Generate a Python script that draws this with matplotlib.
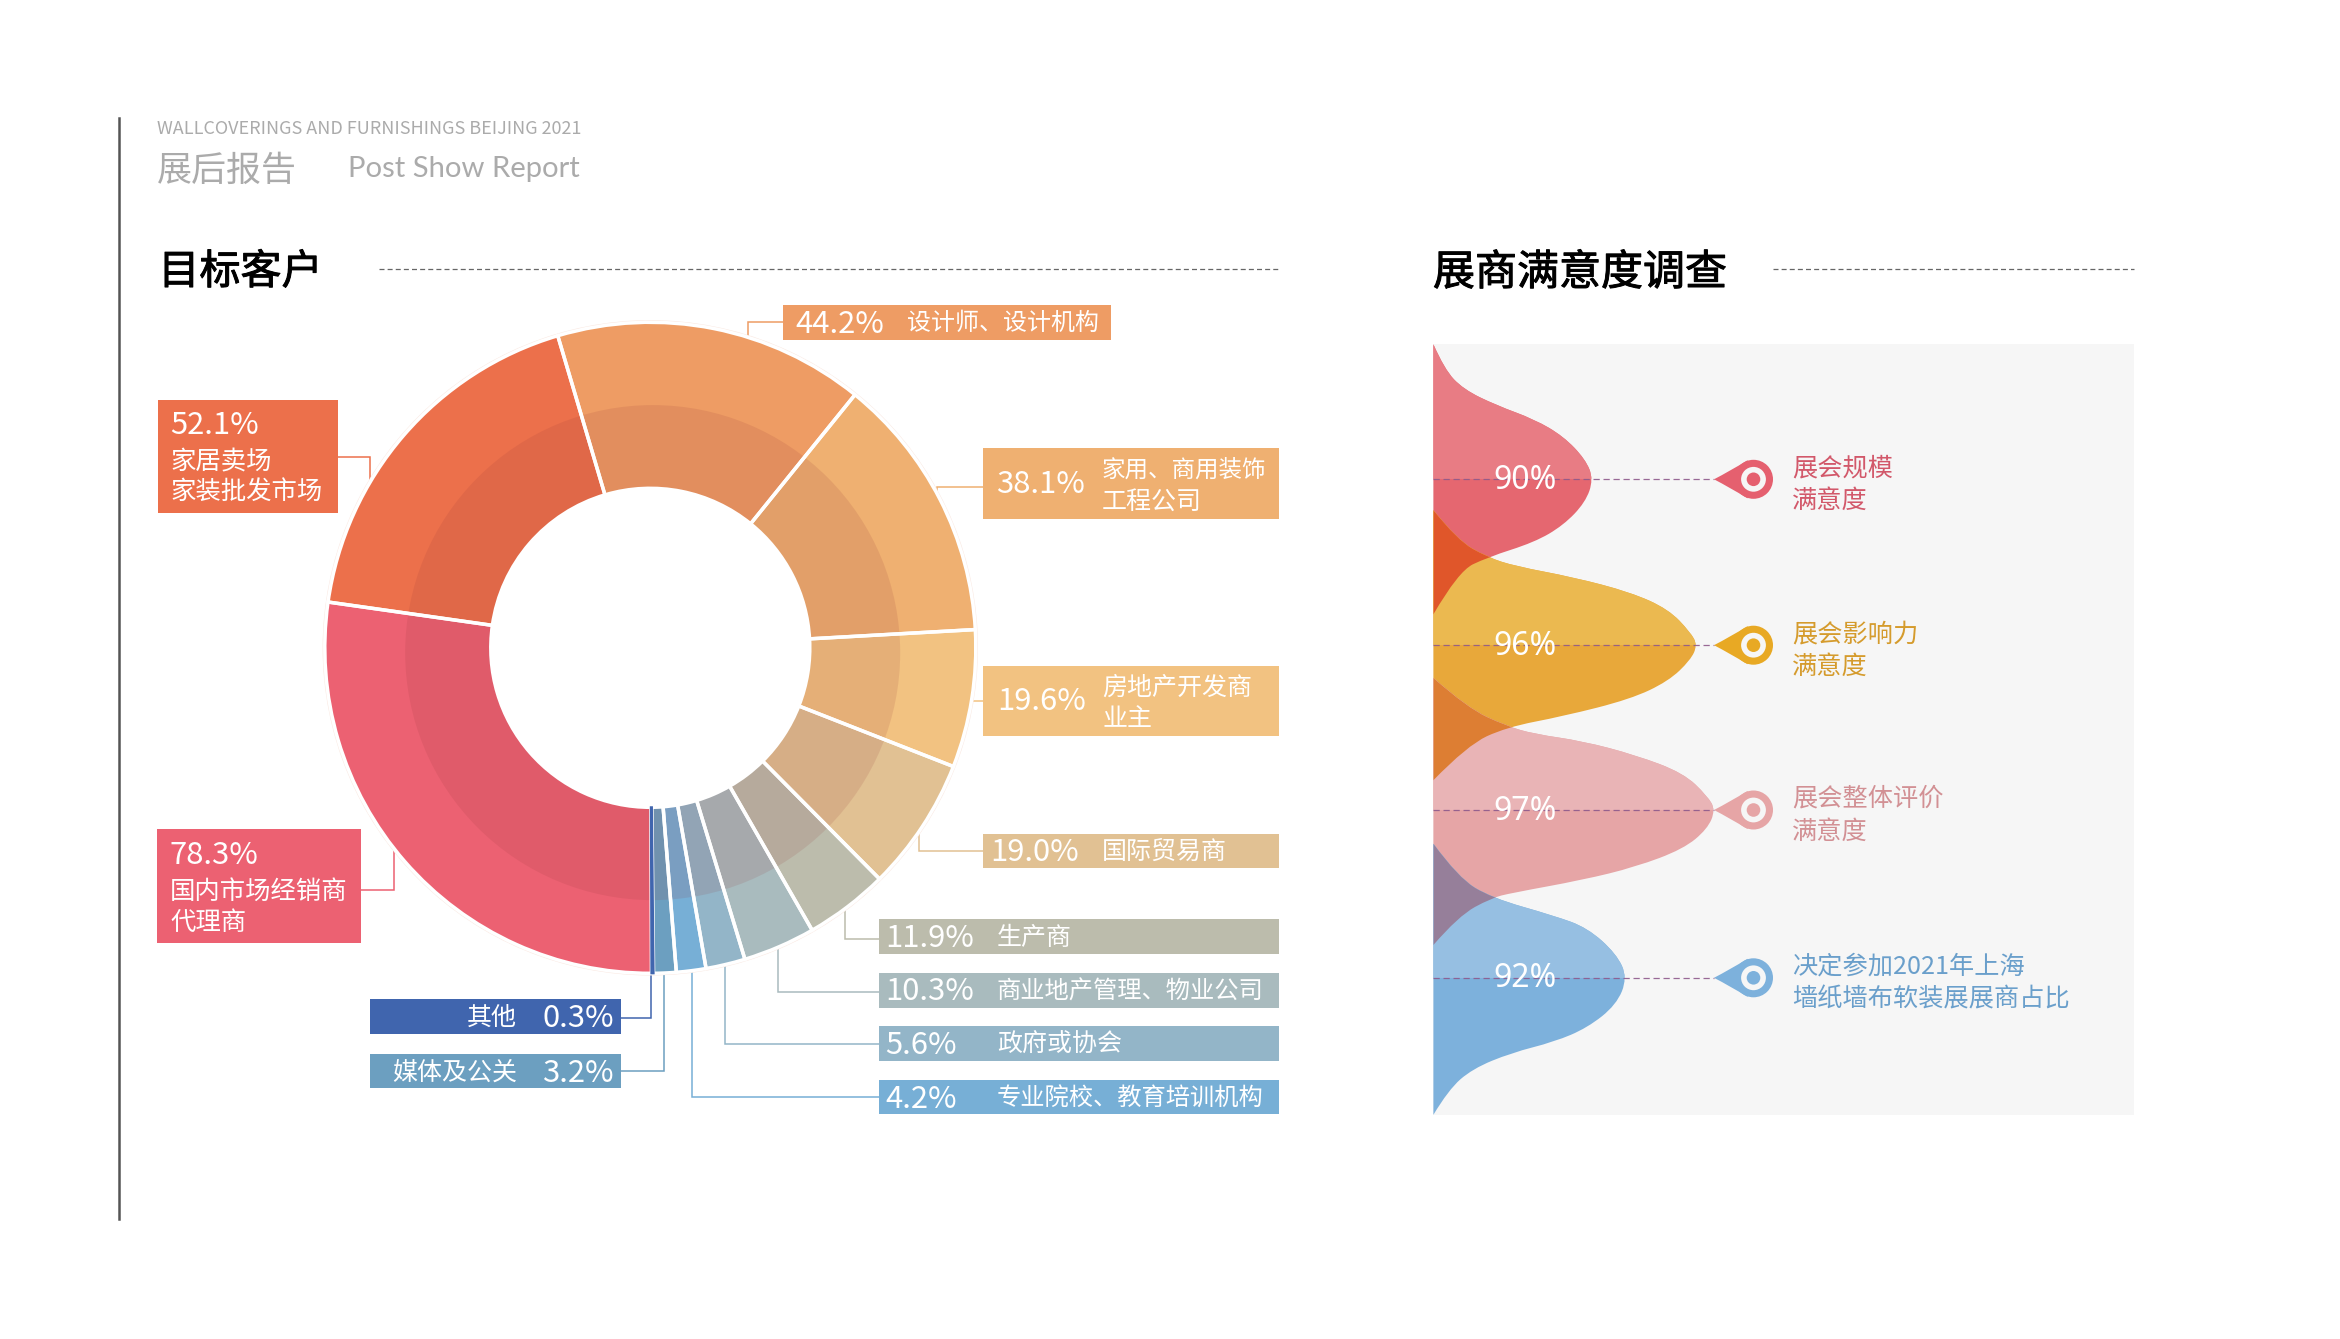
import matplotlib
matplotlib.use('Agg')
from matplotlib import pyplot as plt
from matplotlib import patheffects as pe
from matplotlib.patches import Circle, PathPatch, Rectangle
from matplotlib.path import Path

W, H = 2340, 1339
CJK = ['Noto Sans CJK SC', 'DejaVu Sans']
plt.rcParams['font.family'] = CJK

# donut data, clockwise from the bottom
shares = [78.3, 52.1, 44.2, 38.1, 19.6, 19.0, 11.9, 10.3, 5.6, 4.2, 3.2, 0.3]
names = [
    ['国内市场经销商', '代理商'],
    ['家居卖场', '家装批发市场'],
    ['设计师、设计机构'],
    ['家用、商用装饰', '工程公司'],
    ['房地产开发商', '业主'],
    ['国际贸易商'],
    ['生产商'],
    ['商业地产管理、物业公司'],
    ['政府或协会'],
    ['专业院校、教育培训机构'],
    ['媒体及公关'],
    ['其他'],
]
colors = ['#EC6172', '#EC704B', '#EE9C64', '#EFB071', '#F2C281', '#E1C193',
          '#BCBCAC', '#A9BBBE', '#93B5C8', '#77AFD6', '#6C9FC0', '#4065AE']

# satisfaction survey data
survey_pct = [90, 96, 97, 92]
survey_text = [
    ['展会规模', '满意度'],
    ['展会影响力', '满意度'],
    ['展会整体评价', '满意度'],
    ['决定参加2021年上海', '墙纸墙布软装展展商占比'],
]
survey_text_colors = ['#D2586A', '#D59B2C', '#D29094', '#6A9FCB']
survey_low = ['#E56770', '#E8A83A', '#E6A5A6', '#7DB1DC']
survey_up = ['#E87C84', '#EBB950', '#E9B4B6', '#96BFE2']
survey_marker = ['#E5606F', '#E8A924', '#E6A5A6', '#7DB1DC']
overlap_colors = ['#E0562A', '#DD7E33', '#967F9A']
survey_y = [479.3, 645.2, 810, 977.8]

# bell outlines: distance from panel left, height relative to own centre line
bell_x = [
    [0, 11, 30, 63, 101, 130, 152, 160, 152, 130, 101, 54, 25, 0],
    [0, 24, 54, 82, 140, 197, 235, 257, 264, 257, 235, 197, 130, 73, 34, 0],
    [0, 34, 73, 101, 149, 202, 250, 274, 282, 274, 250, 202, 149, 78, 58, 25, 0],
    [0, 25, 58, 121, 154, 183, 194, 183, 154, 121, 78, 39, 15, 0],
]
bell_y = [
    [-135, -110, -90, -74, -60, -43, -20, 0, 23, 46, 63, 78, 92, 135],
    [-135, -105, -88, -79, -68, -53, -36, -13, 0, 15, 36, 54, 71, 82, 100, 135],
    [-132, -102, -84, -76, -69, -55, -37, -14, 0, 19, 39, 57, 70, 83, 88, 106, 135],
    [-134, -100, -80, -62, -50, -24, 0, 27, 50, 64, 75, 91, 112, 137],
]


def fs(px):
    return px * 0.72


def label(x, y, s, px, color='white', ha='left', **kw):
    return ax.text(x, y, s, fontsize=fs(px), color=color, ha=ha, va='center_baseline', **kw)


def bell_path(x_pts, y_pts, x0, yc):
    # quadratic spline through the midpoints of the read points
    pts = [(x0 + a, yc + b) for a, b in zip(x_pts, y_pts)]
    verts, codes = [pts[0]], [Path.MOVETO]
    for i in range(1, len(pts) - 1):
        p = pts[i]
        q = pts[i + 1]
        end = q if i == len(pts) - 2 else ((p[0] + q[0]) / 2, (p[1] + q[1]) / 2)
        verts += [p, end]
        codes += [Path.CURVE3, Path.CURVE3]
    verts.append(pts[0])
    codes.append(Path.CLOSEPOLY)
    return Path(verts, codes)


fig = plt.figure(figsize=(W / 100, H / 100), dpi=100, facecolor='white')
ax = fig.add_axes([0, 0, 1, 1])
ax.set_xlim(0, W)
ax.set_ylim(H, 0)
ax.axis('off')

# page header
ax.plot([119, 119], [118, 1219], color='#555555', lw=1.8)
ax.text(157, 127, 'WALLCOVERINGS AND FURNISHINGS BEIJING 2021', fontsize=fs(18), color='#ABABAB',
        va='center_baseline', family=['Noto Sans CJK SC', 'DejaVu Sans'])
label(157, 166.5, '展后报告', 35, '#ABABAB')
label(348, 166.5, 'Post Show Report', 29.3, '#ABABAB', family=['Lato', 'Noto Sans CJK SC'])

# section titles
thick = [pe.withStroke(linewidth=0.7, foreground='black')]
label(158.5, 268, '目标客户', 41, 'black', path_effects=thick)
ax.plot([379, 1279], [269.4, 269.4], color='#666666', lw=0.9, dashes=(4, 2.5))
label(1433, 268, '展商满意度调查', 42, 'black', path_effects=thick)
ax.plot([1773, 2134], [269.4, 269.4], color='#666666', lw=0.9, dashes=(4, 2.5))

# label boxes: x0, x1, y0, y1
boxes = [
    (157, 361, 829, 943), (157.5, 338, 400, 512.5), (783, 1110.7, 305, 340),
    (983, 1279, 448, 519), (983, 1279, 666, 735.5), (983, 1279, 833.5, 868),
    (878.5, 1279, 919, 954), (878.5, 1279, 972.5, 1007.5), (878.5, 1279, 1026, 1061),
    (878.5, 1279, 1079.7, 1114.3), (370, 620.7, 1053.5, 1088), (370, 620.7, 999, 1033.5),
]
leader_lines = [
    ([361, 394, 394], [890, 890, 845]),
    ([338, 370, 370], [457, 457, 501]),
    ([783, 748, 748], [322, 322, 340]),
    ([983, 937, 937], [487, 487, 503]),
    ([983, 965], [700.7, 700.7]),
    ([983, 919, 919], [851, 851, 826]),
    ([878.5, 845, 845], [939, 939, 907]),
    ([878.5, 777.5, 777.5], [992, 992, 947]),
    ([878.5, 725, 725], [1043.5, 1043.5, 963]),
    ([878.5, 692, 692], [1097, 1097, 968]),
    ([620.7, 664, 664], [1071, 1071, 972]),
    ([620.7, 651, 651], [1017.5, 1017.5, 972]),
]
for b, line, c in zip(boxes, leader_lines, colors):
    ax.plot(line[0], line[1], color=c, lw=1.1, solid_joinstyle='miter', zorder=1)
    ax.add_patch(Rectangle((b[0], b[2]), b[1] - b[0], b[3] - b[2], fc=c, ec='none', zorder=2))

# stacked boxes on the left
label(169.5, 851.5, f'{shares[0]}%', 31, zorder=3)
label(170, 889, names[0][0], 25.4, zorder=3)
label(170, 920, names[0][1], 25.4, zorder=3)
label(170, 422.5, f'{shares[1]}%', 31, zorder=3)
label(170.5, 459, names[1][0], 25.4, zorder=3)
label(170.5, 489, names[1][1], 25.4, zorder=3)

# single line boxes on the right
num_x = [0, 0, 795.7, 996.5, 997.5, 990.5, 885.5, 885.5, 885.5, 885.5]
name_x = [0, 0, 907.5, 1102, 1102, 1102, 997, 997, 997, 997]
name_px = [0, 0, 24, 23.5, 25, 25, 25, 24.3, 25, 24.3]
for i in range(2, 10):
    b = boxes[i]
    ym = (b[2] + b[3]) / 2 - 1.5
    if len(names[i]) == 2:
        label(num_x[i], ym - 1, f'{shares[i]}%', 31, zorder=3)
        label(name_x[i], ym - 14.5, names[i][0], name_px[i], zorder=3)
        label(name_x[i], ym + 16.5, names[i][1], 25, zorder=3)
    else:
        label(num_x[i], ym, f'{shares[i]}%', 31, zorder=3)
        label(name_x[i], ym, names[i][0], name_px[i], zorder=3)

# the two boxes left of the donut bottom read right to left
for i in (10, 11):
    b = boxes[i]
    ym = (b[2] + b[3]) / 2 - 1
    label(614, ym, f'{shares[i]}%', 31, ha='right', zorder=3)
    label(517, ym, names[i][0], 25, ha='right', zorder=3)

# donut, in its own axes so the wedges come from ax.pie
cx, cy, R = 650.3, 647.8, 325.5
ax.add_patch(Circle((cx, cy), R + 1.5, fc='none', ec='#FAE9E2', lw=1))
pie_ax = fig.add_axes([(cx - R) / W, 1 - (cy + R) / H, 2 * R / W, 2 * R / H])
pie_ax.patch.set_alpha(0)

start = -89.8
hole = 159.5 / R
pie_ax.pie(shares, colors=colors, radius=1, startangle=start, counterclock=False,
           wedgeprops=dict(width=1 - hole, edgecolor='none'))
# darker mid ring: one faint layer, set a little off the donut centre
pie_ax.add_patch(Circle((2.4 / R, -4.8 / R), 247.5 / R, fc=(146 / 255, 51 / 255, 54 / 255), alpha=0.13,
                        ec='none', zorder=2))
pie_ax.add_patch(Circle((0, 0), hole, fc='white', ec='none', zorder=3))
seps, _ = pie_ax.pie(shares, colors=['none'] * len(shares), radius=1, startangle=start, counterclock=False,
                     wedgeprops=dict(width=1 - hole, edgecolor='white', linewidth=2.5))
for w in seps:
    w.set_zorder(4)
# the 0.3% sliver would vanish under the white separators
seps[-1].set_edgecolor(colors[-1])
seps[-1].set_linewidth(1.5)
seps[-1].set_zorder(5)
pie_ax.set_xlim(-1, 1)
pie_ax.set_ylim(-1, 1)

# survey panel
px0, px1, py0, py1 = 1433.4, 2134, 344, 1114.5
ax.add_patch(Rectangle((px0, py0), px1 - px0, py1 - py0, fc='#F6F6F6', ec='none', zorder=1))

paths = [bell_path(bx, by, px0, yc) for bx, by, yc in zip(bell_x, bell_y, survey_y)]
for i, path in enumerate(paths):
    ax.add_patch(PathPatch(path, fc=survey_low[i], ec='none', zorder=2 + i * 0.1))
    up = PathPatch(path, fc=survey_up[i], ec='none', zorder=2.05 + i * 0.1)
    ax.add_patch(up)
    up.set_clip_path(Rectangle((px0, py0 - 5), px1 - px0, survey_y[i] - py0 + 5, transform=ax.transData))
for i in range(3):
    # overlap of neighbouring bells, a darker lens at the panel edge
    lens = PathPatch(paths[i], fc=overlap_colors[i], ec='none', zorder=2.6)
    ax.add_patch(lens)
    lens.set_clip_path(PathPatch(paths[i + 1], transform=ax.transData))

for i, yc in enumerate(survey_y):
    ax.plot([px0, 1714], [yc, yc], color='#8E5A8C', lw=0.9, dashes=(5, 3), zorder=3, alpha=0.9)
    label(1525, yc - 3, f'{survey_pct[i]}%', 32, ha='center', zorder=4, family=['Noto Sans', 'DejaVu Sans'])
    # pin marker
    mx = 1753.5
    tip = Path([(mx - 39.5, yc), (mx - 24, yc - 8), (mx - 6, yc - 19), (mx, yc), (mx - 6, yc + 19),
                (mx - 24, yc + 8), (mx - 39.5, yc), (mx - 39.5, yc)],
               [Path.MOVETO, Path.CURVE3, Path.CURVE3, Path.LINETO, Path.LINETO,
                Path.CURVE3, Path.CURVE3, Path.CLOSEPOLY])
    ax.add_patch(PathPatch(tip, fc=survey_marker[i], ec='none', zorder=3))
    ax.add_patch(Circle((mx, yc), 19.5, fc=survey_marker[i], ec='none', zorder=3))
    ax.add_patch(Circle((mx, yc), 12.4, fc='#F6F6F6', ec='none', zorder=4))
    ax.add_patch(Circle((mx, yc), 6.8, fc=survey_marker[i], ec='none', zorder=5))
    label(1792, yc - 14, survey_text[i][0], 25.2, survey_text_colors[i], zorder=4)
    label(1792, yc + 19, survey_text[i][1], 25.2, survey_text_colors[i], zorder=4)

fig.savefig('out.png', dpi=100)
